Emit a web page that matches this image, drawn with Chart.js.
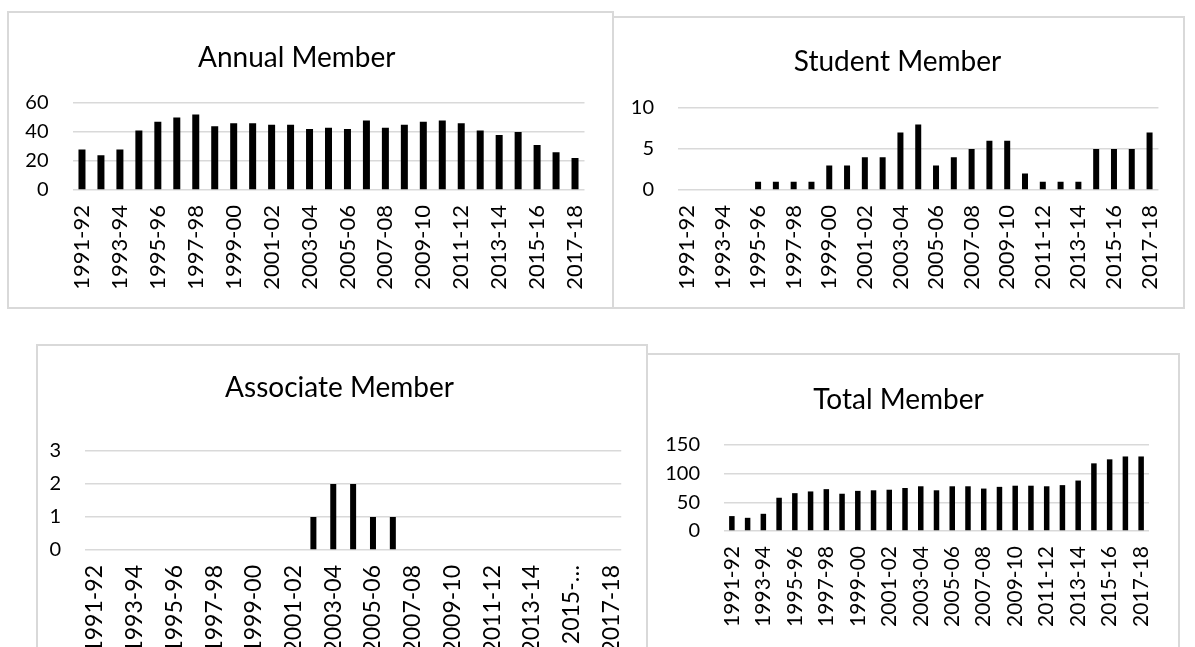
<!DOCTYPE html>
<html>
<head>
<meta charset="utf-8">
<title>Membership</title>
<script src="https://cdn.jsdelivr.net/npm/chart.js@4.4.1/dist/chart.umd.min.js"></script>
<style>
  body { margin: 0; background: #fff; width: 1195px; height: 647px; overflow: hidden; position: relative; }
  .panel { position: absolute; box-sizing: border-box; border: 2px solid #d9d9d9; background: #fff; }
  .panel canvas { display: block; }
</style>
</head>
<body>
<div class="panel" style="left:7px;top:11px;width:607px;height:298px"><canvas id="annual"></canvas></div>
<div class="panel" style="left:612px;top:16px;width:573px;height:293px"><canvas id="student"></canvas></div>
<div class="panel" style="left:36px;top:344px;width:612px;height:320px"><canvas id="associate"></canvas></div>
<div class="panel" style="left:646px;top:353px;width:534px;height:320px"><canvas id="total"></canvas></div>
<script>
const years = [
  "1991-92", "1992-93", "1993-94", "1994-95", "1995-96", "1996-97", "1997-98",
  "1998-99", "1999-00", "2000-01", "2001-02", "2002-03", "2003-04", "2004-05",
  "2005-06", "2006-07", "2007-08", "2008-09", "2009-10", "2010-11", "2011-12",
  "2012-13", "2013-14", "2014-15", "2015-16", "2016-17", "2017-18"
];

const annualMembers = [28, 24, 28, 41, 47, 50, 52, 44, 46, 46, 45, 45, 42, 43, 42, 48, 43, 45, 47, 48, 46, 41, 38, 40, 31, 26, 22];
const studentMembers = [0, 0, 0, 0, 1, 1, 1, 1, 3, 3, 4, 4, 7, 8, 3, 4, 5, 6, 6, 2, 1, 1, 1, 5, 5, 5, 7];
const associateMembers = [0, 0, 0, 0, 0, 0, 0, 0, 0, 0, 0, 1, 2, 2, 1, 1, 0, 0, 0, 0, 0, 0, 0, 0, 0, 0, 0];
const totalMembers = [26, 23, 30, 58, 66, 69, 73, 65, 70, 71, 72, 75, 78, 71, 78, 78, 74, 77, 79, 79, 78, 80, 88, 118, 125, 130, 130];

// every other year gets a label (Excel skipped the rest)
const yearTicks = years.filter((y, i) => i % 2 === 0);
// the associate chart clipped one of its labels
const associateTicks = [
  "1991-92", "1993-94", "1995-96", "1997-98", "1999-00", "2001-02", "2003-04",
  "2005-06", "2007-08", "2009-10", "2011-12", "2013-14", "2015-\u2026", "2017-18"
];

Chart.defaults.font.family = "Lato, 'Noto Sans', sans-serif";
Chart.defaults.color = "#000";

const TITLE_SIZE = 28;
const Y_TICK_SIZE = 20;

function drawPanel(id, title, values, tickLabels, opt) {
  const canvas = document.getElementById(id);
  const panel = canvas.parentElement;
  const x0 = panel.offsetLeft + 2;
  const y0 = panel.offsetTop + 2;
  const w = panel.clientWidth;
  const h = panel.clientHeight;
  canvas.style.width = w + "px";
  canvas.style.height = h + "px";
  canvas.width = w;
  canvas.height = h;

  // fit axes so the plot area lands where it sits in the original
  const p = opt.plot;
  const yAxisWidth = p.left - x0;
  const rightPad = x0 + w - p.right;
  const xAxisHeight = y0 + h - p.bottom;
  const half = TITLE_SIZE * 0.6;
  const topPad = opt.titleY - half - y0;
  const titleGap = p.top - (opt.titleY + half);

  return new Chart(canvas, {
    type: "bar",
    data: {
      labels: years,
      datasets: [{
        label: title,
        data: values,
        backgroundColor: "#000",
        barThickness: opt.bar,
        categoryPercentage: 1,
        inflateAmount: 0,
      }],
    },
    options: {
      responsive: false,
      animation: false,
      layout: { padding: { top: topPad, left: 0, right: rightPad, bottom: 0 } },
      plugins: {
        legend: { display: false },
        tooltip: { enabled: false },
        title: {
          display: true,
          text: title,
          color: "#000",
          font: { size: TITLE_SIZE, weight: "normal" },
          padding: { top: 0, bottom: titleGap },
        },
      },
      scales: {
        x: {
          grid: { display: false },
          border: { display: false },
          ticks: {
            autoSkip: false,
            minRotation: 90,
            maxRotation: 90,
            padding: 7,
            font: { size: opt.xFont },
            callback: (v, i) => (i % 2 === 0 ? tickLabels[i / 2] : ""),
          },
          afterFit: (s) => { s.height = xAxisHeight; },
        },
        y: {
          min: 0,
          max: opt.max,
          border: { display: false },
          grid: { color: "#d9d9d9", lineWidth: 1.5, drawTicks: false },
          ticks: { stepSize: opt.step, padding: 24, font: { size: Y_TICK_SIZE } },
          afterFit: (s) => { s.width = yAxisWidth; },
        },
      },
    },
  });
}

drawPanel("annual", "Annual Member", annualMembers, yearTicks, {
  plot: { left: 72.5, right: 584.5, top: 103, bottom: 190 },
  titleY: 58, max: 60, step: 20, bar: 7, xFont: 22,
});

drawPanel("student", "Student Member", studentMembers, yearTicks, {
  plot: { left: 678, right: 1181, top: 108, bottom: 190 },
  titleY: 62, max: 10, step: 5, bar: 6, xFont: 22,
});

drawPanel("associate", "Associate Member", associateMembers, associateTicks, {
  plot: { left: 85, right: 641, top: 451, bottom: 550 },
  titleY: 388, max: 3, step: 1, bar: 6, xFont: 23,
});

drawPanel("total", "Total Member", totalMembers, yearTicks, {
  plot: { left: 724, right: 1149, top: 445, bottom: 531 },
  titleY: 400, max: 150, step: 50, bar: 5.5, xFont: 21,
});
</script>
</body>
</html>
